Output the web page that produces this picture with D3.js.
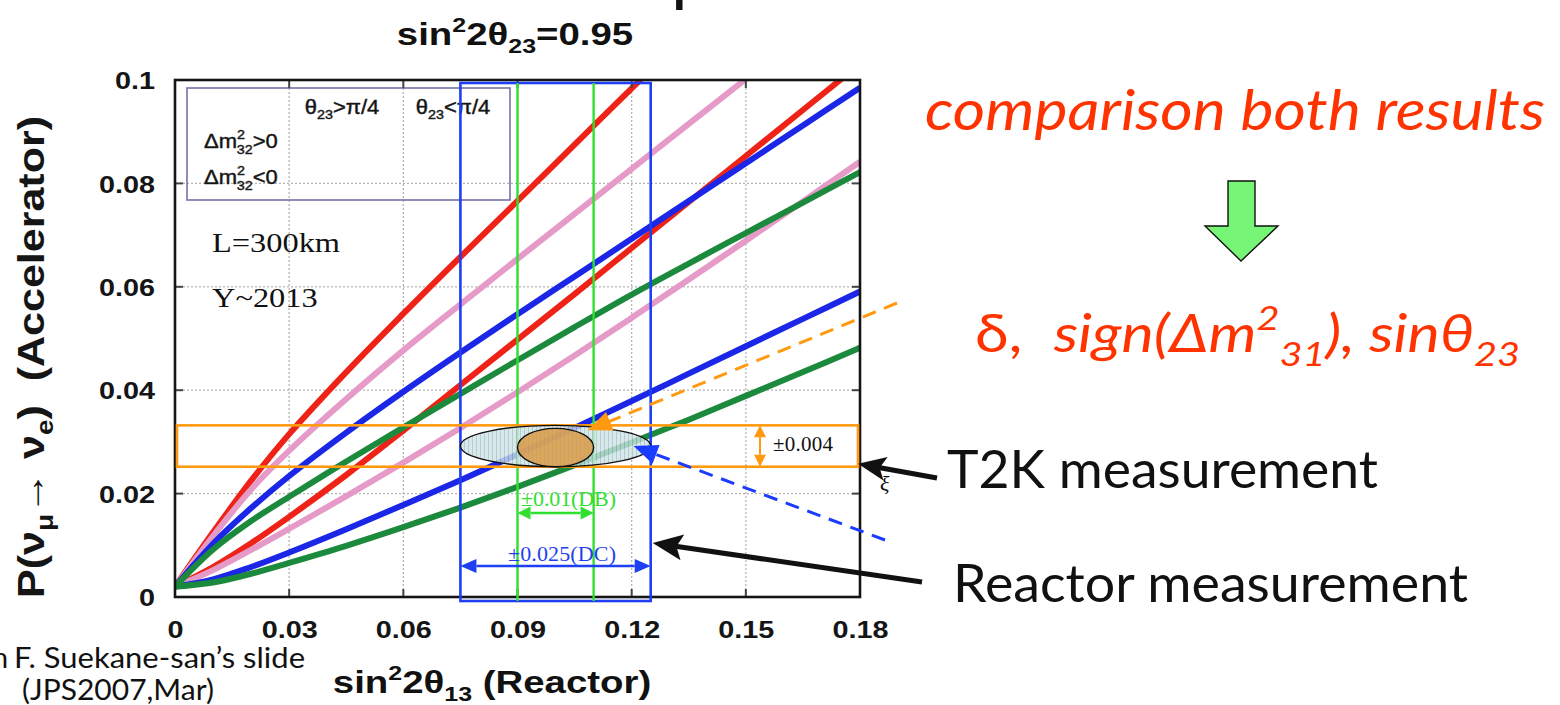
<!DOCTYPE html>
<html>
<head>
<meta charset="utf-8">
<script src="https://cdn.jsdelivr.net/npm/d3@7"></script>
<style>
  html, body { margin: 0; padding: 0; background: #ffffff; }
  svg { display: block; }
  text { white-space: pre; }
</style>
</head>
<body>
<svg id="fig" width="1560" height="705"></svg>
<script>
// ---- data -------------------------------------------------------------
// sin^2 2θ13 sample points shared by all oscillation curves
const s13 = [0, 0.01, 0.02, 0.03, 0.045, 0.06, 0.075, 0.09, 0.105, 0.12, 0.135, 0.15, 0.165, 0.18];

// P(νμ→νe) for each hierarchy / octant pair (two CP phases each)
const redUpper   = [0.002, 0.0125, 0.0225, 0.0315, 0.0435, 0.0548, 0.0658, 0.0766, 0.0875, 0.0984, 0.1092, null, null, null];
const redLower   = [0.002, 0.0058, 0.0104, 0.0155, 0.0236, 0.0322, 0.041, 0.0498, 0.0586, 0.0675, 0.0764, 0.0853, 0.0942, 0.1031];
const pinkUpper  = [0.002, 0.0118, 0.0208, 0.0283, 0.0383, 0.0477, 0.0566, 0.0654, 0.0741, 0.0828, 0.0915, 0.1002, null, null];
const pinkLower  = [0.002, 0.0052, 0.0091, 0.0132, 0.0195, 0.026, 0.0327, 0.0396, 0.0467, 0.054, 0.0614, 0.0689, 0.0765, 0.0842];
const blueUpper  = [0.002, 0.0103, 0.0172, 0.0234, 0.0318, 0.0397, 0.0473, 0.0547, 0.062, 0.0693, 0.0766, 0.0839, 0.0912, 0.0985];
const blueLower  = [0.002, 0.0034, 0.0058, 0.0086, 0.0131, 0.0178, 0.0226, 0.0276, 0.0327, 0.0379, 0.0432, 0.0485, 0.0538, 0.0591];
const greenUpper = [0.002, 0.0092, 0.0147, 0.0194, 0.0262, 0.0328, 0.0393, 0.0458, 0.0522, 0.0585, 0.0645, 0.0704, 0.0763, 0.0822];
const greenLower = [0.002, 0.0028, 0.0045, 0.0066, 0.0099, 0.0135, 0.0173, 0.0213, 0.0255, 0.0299, 0.0343, 0.0389, 0.0435, 0.0482];

const curveSeries = [redUpper, redLower, pinkUpper, pinkLower, blueUpper, blueLower, greenUpper, greenLower];
const curveColors = ["#ee2416", "#ee2416", "#e69ac8", "#e69ac8", "#1a28e6", "#1a28e6", "#1f8a3e", "#1f8a3e"];

// axis ticks
const xTicks = [0, 0.03, 0.06, 0.09, 0.12, 0.15, 0.18];
const xTickLabels = ["0", "0.03", "0.06", "0.09", "0.12", "0.15", "0.18"];
const yTicks = [0, 0.02, 0.04, 0.06, 0.08, 0.1];
const yTickLabels = ["0", "0.02", "0.04", "0.06", "0.08", "0.1"];

// expected measurements
const reactorCenter = 0.1;
const reactorErrDB = 0.01;
const reactorErrDC = 0.025;
const t2kCenter = 0.0292;
const t2kErr = 0.004;

// ---- setup ------------------------------------------------------------
const svg = d3.select("#fig");
const SX = 1.2;                       // horizontal stretch of the figure
const SANS = "'Liberation Sans', Arial, sans-serif";
const SERIF = "'Liberation Serif', 'Times New Roman', serif";
const HUMAN = "Lato, 'Open Sans', sans-serif";

const x = d3.scaleLinear().domain([0, 0.18]).range([175, 860]);
const y = d3.scaleLinear().domain([0, 0.1]).range([597, 80]);
const [X0, X1] = x.range();
const [Y0, Y1] = y.range();

const defs = svg.append("defs");
defs.append("clipPath").attr("id", "plotClip")
  .append("rect").attr("x", X0).attr("y", Y1).attr("width", X1 - X0).attr("height", Y0 - Y1);
defs.append("filter").attr("id", "soft").attr("x", "-5%").attr("y", "-5%").attr("width", "110%").attr("height", "110%")
  .append("feGaussianBlur").attr("stdDeviation", 0.7);
const hatch = defs.append("pattern").attr("id", "hatch").attr("patternUnits", "userSpaceOnUse")
  .attr("width", 4).attr("height", 4);
hatch.append("rect").attr("width", 4).attr("height", 4).attr("fill", "#cfe3e6");
hatch.append("line").attr("x1", 0.5).attr("x2", 0.5).attr("y1", 0).attr("y2", 4)
  .attr("stroke", "#a3c2c7").attr("stroke-width", 1);

// rich text with super/subscripts: parts = [[string, 'n'|'sup'|'sub', opts]]
function rich(sel, parts, base) {
  let cur = 0;
  parts.forEach(([str, kind, opt]) => {
    const size = kind === "n" ? base : base * 0.65;
    const target = kind === "sup" ? -base * 0.42 : kind === "sub" ? base * 0.26 : 0;
    const t = sel.append("tspan").text(str).attr("font-size", size).attr("dy", target - cur);
    if (opt && opt.dx != null) t.attr("dx", opt.dx);
    if (opt && opt.style) t.attr("font-style", opt.style);
    if (opt && opt.weight) t.attr("font-weight", opt.weight);
    cur = target;
  });
  return sel;
}

// stretched text anchored at (tx, ty)
function stext(g, tx, ty, o) {
  return g.append("text")
    .attr("transform", `translate(${tx},${ty}) scale(${o.sx || 1},1)`)
    .attr("text-anchor", o.anchor || "start")
    .attr("font-family", o.family || SANS)
    .attr("font-weight", o.weight || "normal")
    .attr("font-size", o.size)
    .attr("fill", o.fill || "#111");
}

// straight arrow from tail to tip
function arrow(g, x1, y1, x2, y2, o) {
  const dx = x2 - x1, dy = y2 - y1, L = Math.hypot(dx, dy), ux = dx / L, uy = dy / L;
  const bx = x2 - ux * o.head, by = y2 - uy * o.head;
  const notch = o.notch || 0;
  g.append("line")
    .attr("x1", x1).attr("y1", y1)
    .attr("x2", bx + ux * (notch + 1)).attr("y2", by + uy * (notch + 1))
    .attr("stroke", o.color).attr("stroke-width", o.width)
    .attr("stroke-dasharray", o.dash || null);
  g.append("path")
    .attr("d", `M${x2},${y2}L${bx - uy * o.hw / 2},${by + ux * o.hw / 2}` +
               `L${bx + ux * notch},${by + uy * notch}` +
               `L${bx + uy * o.hw / 2},${by - ux * o.hw / 2}Z`)
    .attr("fill", o.color);
}
function doubleArrow(g, x1, y1, x2, y2, o) {
  const dx = x2 - x1, dy = y2 - y1, L = Math.hypot(dx, dy), ux = dx / L, uy = dy / L;
  g.append("line")
    .attr("x1", x1 + ux * o.head).attr("y1", y1 + uy * o.head)
    .attr("x2", x2 - ux * o.head).attr("y2", y2 - uy * o.head)
    .attr("stroke", o.color).attr("stroke-width", o.width);
  [[x2, y2, 1], [x1, y1, -1]].forEach(([tx, ty, s]) => {
    const bx = tx - s * ux * o.head, by = ty - s * uy * o.head;
    g.append("path")
      .attr("d", `M${tx},${ty}L${bx - uy * o.hw / 2},${by + ux * o.hw / 2}L${bx + uy * o.hw / 2},${by - ux * o.hw / 2}Z`)
      .attr("fill", o.color);
  });
}

// ---- plot -------------------------------------------------------------
const plot = svg.append("g");

// dotted grid
const grid = plot.append("g").attr("stroke", "#b4b4b4").attr("stroke-width", 1.3).attr("stroke-dasharray", "2,2");
xTicks.slice(1, -1).forEach(v => grid.append("line").attr("x1", x(v)).attr("x2", x(v)).attr("y1", Y1).attr("y2", Y0));
yTicks.slice(1, -1).forEach(v => grid.append("line").attr("x1", X0).attr("x2", X1).attr("y1", y(v)).attr("y2", y(v)));

// legend frame (grid stays visible through it)
const leg = plot.append("g");
leg.append("rect").attr("x", 187).attr("y", 88).attr("width", 323).attr("height", 112)
  .attr("fill", "none").attr("stroke", "#7474a4").attr("stroke-width", 1.6);

// oscillation curves
const line = d3.line()
  .defined(d => d[1] != null)
  .x(d => x(d[0])).y(d => y(d[1]))
  .curve(d3.curveCatmullRom.alpha(0.5));
const curves = plot.append("g").attr("clip-path", "url(#plotClip)")
  .append("g").attr("filter", "url(#soft)");
curveSeries.forEach((vals, i) => {
  curves.append("path")
    .attr("d", line(s13.map((s, j) => [s, vals[j]])))
    .attr("fill", "none")
    .attr("stroke", curveColors[i])
    .attr("stroke-width", 6)
    .attr("stroke-linecap", "butt");
});

// frame and inner tick marks
const axes = plot.append("g");
const tickMarks = axes.append("g").attr("stroke", "#444").attr("stroke-width", 2);
xTicks.slice(1, -1).forEach(v => {
  tickMarks.append("line").attr("x1", x(v)).attr("x2", x(v)).attr("y1", Y0).attr("y2", Y0 - 8);
  tickMarks.append("line").attr("x1", x(v)).attr("x2", x(v)).attr("y1", Y1).attr("y2", Y1 + 8);
});
yTicks.slice(1, -1).forEach(v => {
  tickMarks.append("line").attr("x1", X0).attr("x2", X0 + 8).attr("y1", y(v)).attr("y2", y(v));
  tickMarks.append("line").attr("x1", X1).attr("x2", X1 - 8).attr("y1", y(v)).attr("y2", y(v));
});
axes.append("rect").attr("x", X0).attr("y", Y1).attr("width", X1 - X0).attr("height", Y0 - Y1)
  .attr("fill", "none").attr("stroke", "#151515").attr("stroke-width", 2.6);

// axis labels through d3 axes
const xAxis = d3.axisBottom(x).tickValues(xTicks).tickFormat((d, i) => xTickLabels[i]).tickSize(0);
const gx = axes.append("g").attr("transform", `translate(0,${Y0})`).call(xAxis);
gx.select(".domain").remove();
gx.selectAll("text")
  .attr("y", 41).attr("dy", 0)
  .attr("transform", `scale(${SX},1)`)
  .attr("font-family", SANS).attr("font-weight", "bold").attr("font-size", 24).attr("fill", "#151515");

const yAxis = d3.axisLeft(y).tickValues(yTicks).tickFormat((d, i) => yTickLabels[i]).tickSize(0);
const gy = axes.append("g").attr("transform", `translate(${X0},0)`).call(yAxis);
gy.select(".domain").remove();
gy.selectAll("text")
  .attr("x", -20 / SX).attr("dy", "0.36em")
  .attr("transform", `scale(${SX},1)`)
  .attr("font-family", SANS).attr("font-weight", "bold").attr("font-size", 24).attr("fill", "#151515");

// titles
rich(stext(svg, 515, 45, { sx: SX, anchor: "middle", weight: "bold", size: 32 }),
  [["sin", "n"], ["2", "sup"], ["2θ", "n"], ["23", "sub"], ["=0.95", "n"]], 32);
rich(stext(svg, 492, 693, { sx: SX, anchor: "middle", weight: "bold", size: 32 }),
  [["sin", "n"], ["2", "sup"], ["2θ", "n"], ["13", "sub"], [" (Reactor)", "n"]], 32);
rich(svg.append("text")
    .attr("transform", `translate(44,357) rotate(-90) scale(1,${SX})`)
    .attr("text-anchor", "middle").attr("font-family", SANS).attr("font-weight", "bold")
    .attr("font-size", 30).attr("fill", "#151515").attr("textLength", 482).attr("lengthAdjust", "spacingAndGlyphs"),
  [["P(ν", "n"], ["μ", "sub"], ["→ ν", "n"], ["e", "sub"], [")  (Accelerator)", "n"]], 30);

// legend content (slightly heavier strokes)
const LF = 20;
const legText = leg.append("g").attr("stroke", "#222").attr("stroke-width", 0.45);
rich(stext(legText, 342, 114, { sx: 1.1, anchor: "middle", size: LF }), [["θ", "n"], ["23", "sub"], [">π/4", "n"]], LF);
rich(stext(legText, 453, 114, { sx: 1.1, anchor: "middle", size: LF }), [["θ", "n"], ["23", "sub"], ["<π/4", "n"]], LF);
[["Δm", ">0", 148], ["Δm", "<0", 184]].forEach(([a, b, by]) => {
  const t = stext(legText, 204, by, { sx: 1.1, size: LF });
  t.append("tspan").text(a);
  t.append("tspan").text("2").attr("font-size", 13).attr("dy", -9);
  t.append("tspan").text("32").attr("font-size", 13).attr("dx", -7.5).attr("dy", 15);
  t.append("tspan").text(b).attr("dy", -6);
});
const legendLines = [[307, 388, 141, 0], [415, 494, 141, 4], [307, 388, 177, 2], [415, 494, 177, 6]];
legendLines.forEach(([a, b, ly, ci]) => {
  leg.append("line").attr("x1", a).attr("x2", b).attr("y1", ly).attr("y2", ly)
    .attr("stroke", curveColors[ci]).attr("stroke-width", 6).attr("filter", "url(#soft)");
});

// in-plot notes
stext(svg, 212, 252, { family: SERIF, size: 27, sx: SX }).text("L=300km");
stext(svg, 212, 307, { family: SERIF, size: 27, sx: SX }).text("Y~2013");

// ---- measurement overlays ---------------------------------------------
const meas = svg.append("g");
const dcL = x(reactorCenter - reactorErrDC), dcR = x(reactorCenter + reactorErrDC);
const dbL = x(reactorCenter - reactorErrDB), dbR = x(reactorCenter + reactorErrDB);
const tTop = y(t2kCenter + t2kErr), tBot = y(t2kCenter - t2kErr);

// T2K band and reactor windows
meas.append("rect").attr("x", dcL).attr("y", Y1 + 3).attr("width", dcR - dcL).attr("height", Y0 - Y1 + 1)
  .attr("fill", "none").attr("stroke", "#1f3ff2").attr("stroke-width", 2.6);
[dbL, dbR].forEach(v => meas.append("line").attr("x1", v).attr("x2", v).attr("y1", Y1 + 3).attr("y2", Y0 + 4)
  .attr("stroke", "#2fe02f").attr("stroke-width", 2.4));
meas.append("rect").attr("x", X0 + 2).attr("y", tTop).attr("width", X1 - X0 - 4).attr("height", tBot - tTop)
  .attr("fill", "none").attr("stroke", "#ff9a10").attr("stroke-width", 2.6);

// allowed regions
const cy = y(t2kCenter);
meas.append("ellipse").attr("cx", x(reactorCenter)).attr("cy", cy)
  .attr("rx", dcR - x(reactorCenter)).attr("ry", (tBot - tTop) / 2)
  .attr("fill", "url(#hatch)").attr("fill-opacity", 0.8).attr("stroke", "#111").attr("stroke-width", 1.4);
meas.append("ellipse").attr("cx", x(reactorCenter)).attr("cy", cy + 1.5)
  .attr("rx", dbR - x(reactorCenter)).attr("ry", (tBot - tTop) / 2 - 1.5)
  .attr("fill", "#d89a48").attr("fill-opacity", 0.85).attr("stroke", "#111").attr("stroke-width", 1.4);

// error-size arrows
doubleArrow(meas, dbL, 513, dbR, 513, { color: "#2fe02f", width: 2.6, head: 13, hw: 13 });
doubleArrow(meas, dcL, 566, dcR, 566, { color: "#1f3ff2", width: 2.6, head: 16, hw: 14 });
doubleArrow(meas, 760, tTop, 760, tBot, { color: "#ff9a10", width: 2, head: 12, hw: 12 });
stext(meas, 521, 506, { family: SERIF, size: 22, fill: "#2fe02f" }).attr("textLength", 95).text("±0.01(DB)");
stext(meas, 508, 561, { family: SERIF, size: 22, fill: "#1f3ff2" }).attr("textLength", 108).text("±0.025(DC)");
stext(meas, 773, 451, { family: SERIF, size: 21, fill: "#111" }).attr("textLength", 60).text("±0.004");

// dashed pointers towards the solutions
arrow(meas, 897, 303, dbR - 6, tTop + 5, { color: "#ff9a10", width: 3, head: 24, hw: 20, dash: "14,9" });
arrow(meas, 885, 540, x(0.1205), cy, { color: "#1a3cff", width: 3, head: 24, hw: 20, dash: "14,9" });

// ---- right-hand annotations -------------------------------------------
const notes = svg.append("g");
stext(notes, 925, 130, { family: HUMAN, size: 56, fill: "#ff3300" })
  .attr("font-style", "italic").attr("textLength", 620).attr("lengthAdjust", "spacingAndGlyphs")
  .text("comparison both results");

// green block arrow
notes.append("path")
  .attr("d", "M1228,181 L1255,181 L1255,226 L1278,226 L1241,261 L1205,226 L1228,226 Z")
  .attr("fill", "#77f577").attr("stroke", "#111").attr("stroke-width", 1.4);

const res = stext(notes, 975, 352, { family: HUMAN, size: 52, fill: "#ff3300" })
  .attr("textLength", 545).attr("lengthAdjust", "spacingAndGlyphs");
rich(res, [["δ,  ", "n"], ["sign(Δm", "n", { style: "italic" }], ["2", "sup", { style: "italic" }],
           ["31", "sub", { style: "italic" }], ["), sinθ", "n", { style: "italic" }], ["23", "sub", { style: "italic" }]], 52);

stext(notes, 947, 488, { family: HUMAN, size: 52 }).attr("textLength", 431).attr("lengthAdjust", "spacingAndGlyphs")
  .text("T2K measurement");
stext(notes, 953, 602, { family: HUMAN, size: 52 }).attr("textLength", 515).attr("lengthAdjust", "spacingAndGlyphs")
  .text("Reactor measurement");

arrow(notes, 937, 478, X1 - 2, tBot - 3, { color: "#111", width: 5, head: 28, hw: 24, notch: 6 });
arrow(notes, 922, 582, dcR + 2, 543, { color: "#111", width: 5, head: 30, hw: 26, notch: 6 });
stext(notes, 880, 491, { family: SERIF, size: 22 }).attr("font-style", "italic").text("ξ");

// credit
stext(svg, 8, 668, { family: HUMAN, size: 29, anchor: "end" }).text("from");
stext(svg, 14, 668, { family: HUMAN, size: 29 }).attr("textLength", 291).attr("lengthAdjust", "spacingAndGlyphs")
  .text("F. Suekane-san’s slide");
stext(svg, 22, 700, { family: HUMAN, size: 29 }).attr("textLength", 192).attr("lengthAdjust", "spacingAndGlyphs")
  .text("(JPS2007,Mar)");

// clipped heading glyph at the very top
stext(svg, 671, -2, { family: HUMAN, size: 72 }).text("p");
</script>
</body>
</html>
